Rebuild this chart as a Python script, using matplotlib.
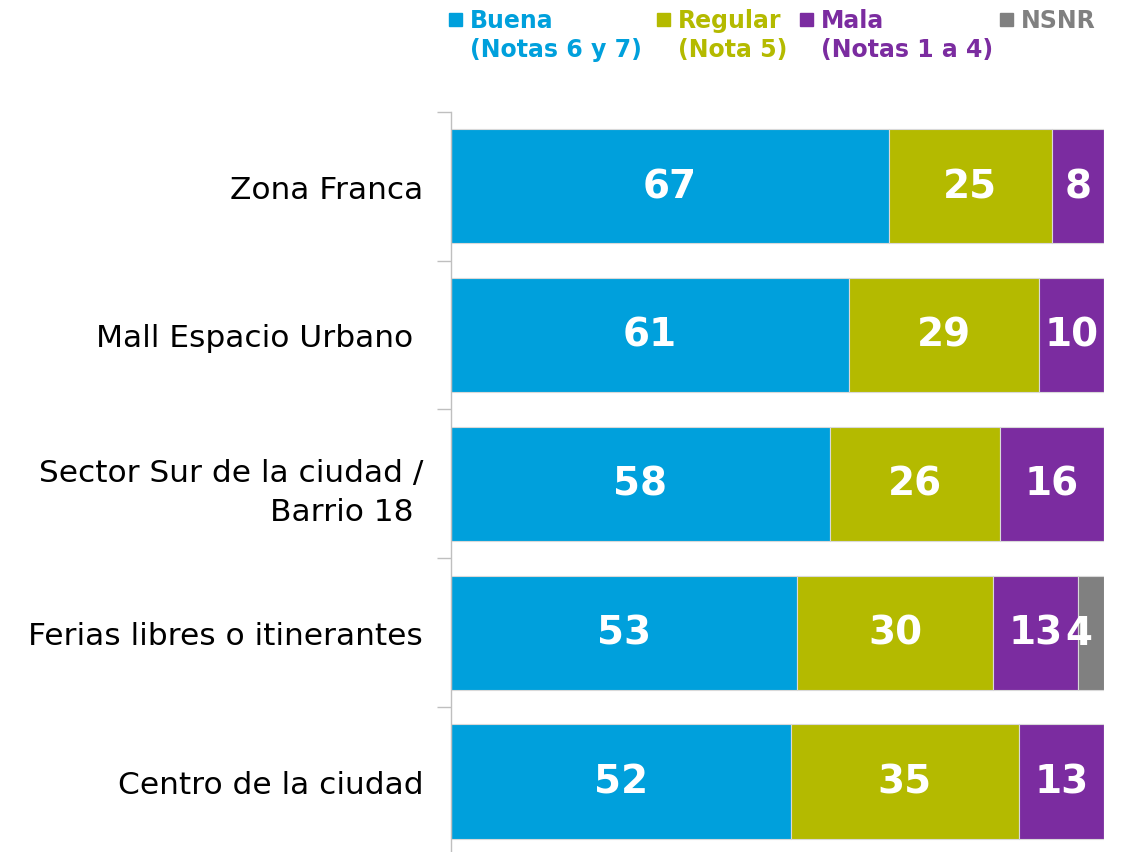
import numpy as np
import matplotlib.pyplot as plt
from matplotlib.patches import Rectangle

plt.rcParams['font.family'] = ['DejaVu Sans']

# datos
categorias = ['Zona Franca', 'Mall Espacio Urbano ', 'Sector Sur de la ciudad /\nBarrio 18 ',
              'Ferias libres o itinerantes', 'Centro de la ciudad']
buena = [67, 61, 58, 53, 52]
regular = [25, 29, 26, 30, 35]
mala = [8, 10, 16, 13, 13]
nsnr = [0, 0, 0, 4, 0]

series = [buena, regular, mala, nsnr]
colores = ['#00A0DC', '#B4BA00', '#7B2CA0', '#808080']
leyenda = ['Buena\n(Notas 6 y 7)', 'Regular\n(Nota 5)', 'Mala\n(Notas 1 a 4)', 'NSNR']

fig = plt.figure(figsize=(11.3, 8.53), dpi=100)
ax = fig.add_axes([451/1130, -0.005, 653/1130, 0.873])

y = np.arange(len(categorias))
izq = np.zeros(len(categorias))
for s, c in zip(series, colores):
    vals = np.array(s, dtype=float)
    ax.barh(y, vals, left=izq, height=0.77, color=c, edgecolor='#d9d9d9', linewidth=0.8)
    for yi, v, l in zip(y, vals, izq):
        if v <= 0:
            continue
        if v < 5:
            # etiqueta chica: va pegada a la del segmento anterior
            ax.text(l - 2.0, yi, f'{v:.0f}', ha='left', va='center', color='white',
                    fontsize=28, fontweight='bold')
        else:
            ax.text(l + v/2, yi, f'{v:.0f}', ha='center', va='center', color='white',
                    fontsize=28, fontweight='bold')
    izq += vals

ax.set_xlim(0, 100)
ax.set_ylim(len(categorias) - 0.5, -0.5)
ax.set_xticks([])
ax.set_yticks(np.arange(-0.5, len(categorias), 1), minor=False)
ax.set_yticklabels([])
ax.set_yticks(y, minor=True)
ax.set_yticklabels(categorias, minor=True, fontsize=22.5, color='black', linespacing=1.45)
ax.tick_params(axis='y', which='minor', length=0, pad=20)
ax.tick_params(axis='y', which='major', length=10, color='#bfbfbf', width=1)
for lbl in ax.get_yticklabels(minor=True):
    lbl.set_horizontalalignment('right')
    lbl.set_multialignment('right')
for sp in ['top', 'right', 'bottom']:
    ax.spines[sp].set_visible(False)
ax.spines['left'].set_color('#bfbfbf')
ax.spines['left'].set_linewidth(1)

# leyenda manual
pos_x = [449, 657, 800, 1000]
for px, c, t in zip(pos_x, colores, leyenda):
    fig.patches.append(Rectangle((px/1130, 1 - 27/853), 13/1130, 13/853,
                                 transform=fig.transFigure, color=c))
    fig.text((px + 21)/1130, 1 - 9/853, t, ha='left', va='top', color=c,
             fontsize=17, fontweight='bold', linespacing=1.25)

fig.savefig('out.png', dpi=100)
